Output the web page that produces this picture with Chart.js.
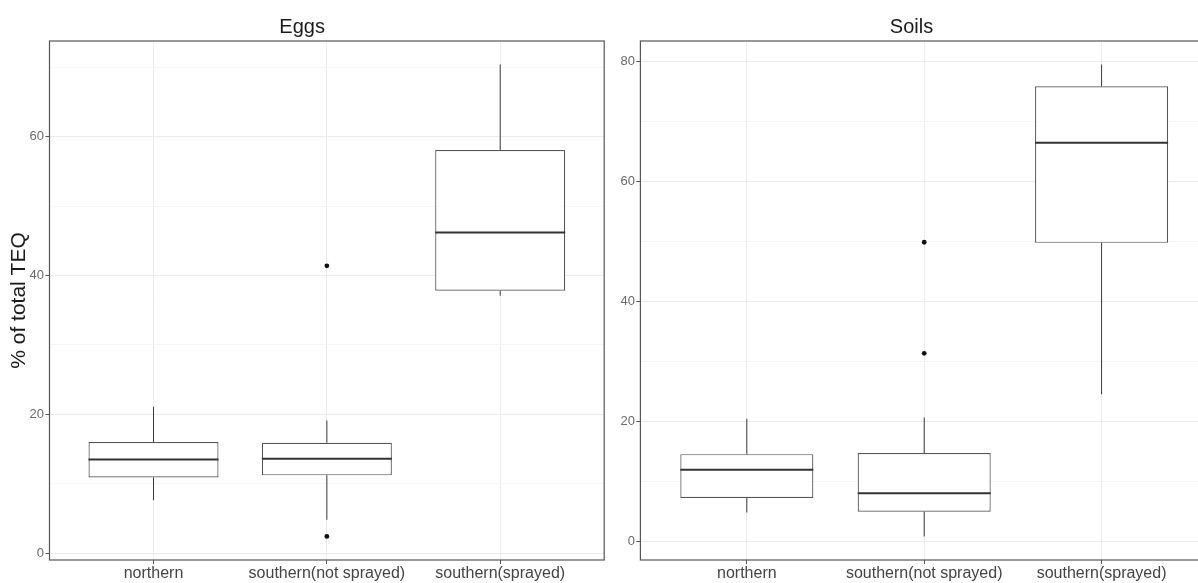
<!DOCTYPE html>
<html>
<head>
<meta charset="utf-8">
<script src="https://cdn.jsdelivr.net/npm/chart.js@4.4.1/dist/chart.umd.min.js"></script>
<style>
  html, body { margin: 0; padding: 0; background: #ffffff; }
  #stage { position: relative; width: 1198px; height: 583px; overflow: hidden; background: #ffffff; }
  #eggsBox { position: absolute; left: 0; top: 0; width: 615px; height: 583px; }
  #soilsBox { position: absolute; left: 615px; top: 0; width: 603px; height: 583px; }
</style>
</head>
<body>
<div id="stage">
  <div id="eggsBox"><canvas id="eggs"></canvas></div>
  <div id="soilsBox"><canvas id="soils"></canvas></div>
</div>
<script>
// Sampling regions (x categories)
const categories = ['northern', 'southern(not sprayed)', 'southern(sprayed)'];

// Eggs: five-number summaries per region (% of total TEQ)
const eggsLow    = [7.6, 4.8, 37.1];
const eggsQ1     = [10.9, 11.2, 37.8];
const eggsMedian = [13.5, 13.6, 46.2];
const eggsQ3     = [16.0, 15.9, 58.1];
const eggsHigh   = [21.1, 19.1, 70.4];
const eggsOutlierGroup = [1, 1];
const eggsOutlierValue = [41.4, 2.4];

// Soils: five-number summaries per region (% of total TEQ)
const soilsLow    = [4.9, 0.9, 24.6];
const soilsQ1     = [7.3, 5.0, 49.8];
const soilsMedian = [12.0, 8.1, 66.5];
const soilsQ3     = [14.6, 14.8, 75.9];
const soilsHigh   = [20.5, 20.7, 79.5];
const soilsOutlierGroup = [1, 1];
const soilsOutlierValue = [49.9, 31.4];

// y tick values: labelled every 20, light minor lines in between
const eggsTicks  = [0, 10, 20, 30, 40, 50, 60, 70];
const soilsTicks = [0, 10, 20, 30, 40, 50, 60, 70, 80];

const FONT = "'Liberation Sans', Arial, Helvetica, sans-serif";
const LINE = '#3a3a3a';
const BOX_LINE = '#555555';

// Draws the median bar across each box and the panel frame
const boxExtras = {
  id: 'boxExtras',
  afterDatasetsDraw(chart, args, opts) {
    const {ctx, scales} = chart;
    const meta = chart.getDatasetMeta(0);
    ctx.save();
    ctx.strokeStyle = '#333333';
    ctx.lineWidth = 2;
    meta.data.forEach((bar, i) => {
      const y = scales.y.getPixelForValue(opts.median[i]);
      ctx.beginPath();
      ctx.moveTo(bar.x - bar.width / 2, y);
      ctx.lineTo(bar.x + bar.width / 2, y);
      ctx.stroke();
    });
    ctx.restore();
  },
  afterDraw(chart) {
    const {ctx, chartArea: a} = chart;
    ctx.save();
    ctx.strokeStyle = '#555555';
    ctx.lineWidth = 1.2;
    ctx.strokeRect(a.left, a.top, a.right - a.left, a.bottom - a.top);
    ctx.restore();
  }
};

function expandedRange(arrays) {
  const all = [].concat(...arrays);
  const lo = Math.min(...all), hi = Math.max(...all);
  const pad = (hi - lo) * 0.05;
  return [lo - pad, hi + pad];
}

function makePanel(canvasId, cfg) {
  const [yMin, yMax] = expandedRange([cfg.low, cfg.high, cfg.outVal]);
  const idx = categories.map((c, i) => i);
  return new Chart(document.getElementById(canvasId), {
    type: 'bar',
    data: {
      datasets: [
        {
          label: 'box',
          data: idx.map(i => ({x: i, y: [cfg.q1[i], cfg.q3[i]]})),
          backgroundColor: '#ffffff',
          borderColor: BOX_LINE,
          borderWidth: 1.2,
          borderSkipped: false,
          grouped: false,
          categoryPercentage: 1,
          barPercentage: 0.75,
          order: 1
        },
        {
          label: 'upper whisker',
          data: idx.map(i => ({x: i, y: [cfg.q3[i], cfg.high[i]]})),
          backgroundColor: LINE,
          borderWidth: 0,
          grouped: false,
          maxBarThickness: 1,
          order: 2
        },
        {
          label: 'lower whisker',
          data: idx.map(i => ({x: i, y: [cfg.low[i], cfg.q1[i]]})),
          backgroundColor: LINE,
          borderWidth: 0,
          grouped: false,
          maxBarThickness: 1,
          order: 3
        },
        {
          type: 'scatter',
          label: 'outliers',
          data: cfg.outGroup.map((g, k) => ({x: g, y: cfg.outVal[k]})),
          backgroundColor: '#111111',
          borderColor: '#111111',
          pointRadius: 2.4,
          borderWidth: 0,
          order: 0
        }
      ]
    },
    options: {
      responsive: true,
      maintainAspectRatio: false,
      animation: false,
      events: [],
      layout: { padding: { left: 0, right: cfg.rightPad, top: 0, bottom: 0 } },
      plugins: {
        legend: { display: false },
        tooltip: { enabled: false },
        title: {
          display: true,
          text: cfg.title,
          color: '#1a1a1a',
          font: { family: FONT, size: 20, weight: 'normal' },
          padding: { top: 15, bottom: 2 }
        },
        boxExtras: { median: cfg.median }
      },
      scales: {
        x: {
          type: 'linear',
          min: -0.6,
          max: categories.length - 0.4,
          offset: false,
          afterBuildTicks: (s) => { s.ticks = idx.map(v => ({value: v})); },
          afterFit: (s) => { s.height = 23; },
          ticks: {
            callback: (v) => categories[v],
            color: '#444444',
            font: { family: FONT, size: 16 },
            padding: 0,
            maxRotation: 0,
            autoSkip: false
          },
          grid: {
            offset: false,
            color: '#ebebeb',
            lineWidth: 1,
            tickColor: '#555555',
            tickLength: 4,
            drawTicks: true
          },
          border: { display: false }
        },
        y: {
          type: 'linear',
          min: yMin,
          max: yMax,
          afterBuildTicks: (s) => { s.ticks = cfg.ticks.map(v => ({value: v})); },
          afterFit: (s) => { s.width = cfg.axisWidth; },
          ticks: {
            callback: (v) => (v % 20 === 0 ? String(v) : ''),
            color: '#6a6a6a',
            font: { family: FONT, size: 13 },
            padding: 1.5
          },
          grid: {
            color: (c) => (c.tick && c.tick.value % 20 === 0 ? '#ebebeb' : '#f4f4f4'),
            lineWidth: 1,
            tickColor: (c) => (c.tick && c.tick.value % 20 === 0 ? '#555555' : 'rgba(0,0,0,0)'),
            tickLength: 4
          },
          border: { display: false },
          title: {
            display: cfg.yTitle !== '',
            text: cfg.yTitle,
            color: '#1a1a1a',
            font: { family: FONT, size: 21 },
            padding: { top: 7, bottom: 0 }
          }
        }
      }
    },
    plugins: [boxExtras]
  });
}

makePanel('eggs', {
  title: 'Eggs',
  yTitle: '% of total TEQ',
  axisWidth: 49.5,
  rightPad: 10.8,
  low: eggsLow, q1: eggsQ1, median: eggsMedian, q3: eggsQ3, high: eggsHigh,
  outGroup: eggsOutlierGroup, outVal: eggsOutlierValue,
  ticks: eggsTicks
});

makePanel('soils', {
  title: 'Soils',
  yTitle: '',
  axisWidth: 25.4,
  rightPad: 10,
  low: soilsLow, q1: soilsQ1, median: soilsMedian, q3: soilsQ3, high: soilsHigh,
  outGroup: soilsOutlierGroup, outVal: soilsOutlierValue,
  ticks: soilsTicks
});
</script>
</body>
</html>
